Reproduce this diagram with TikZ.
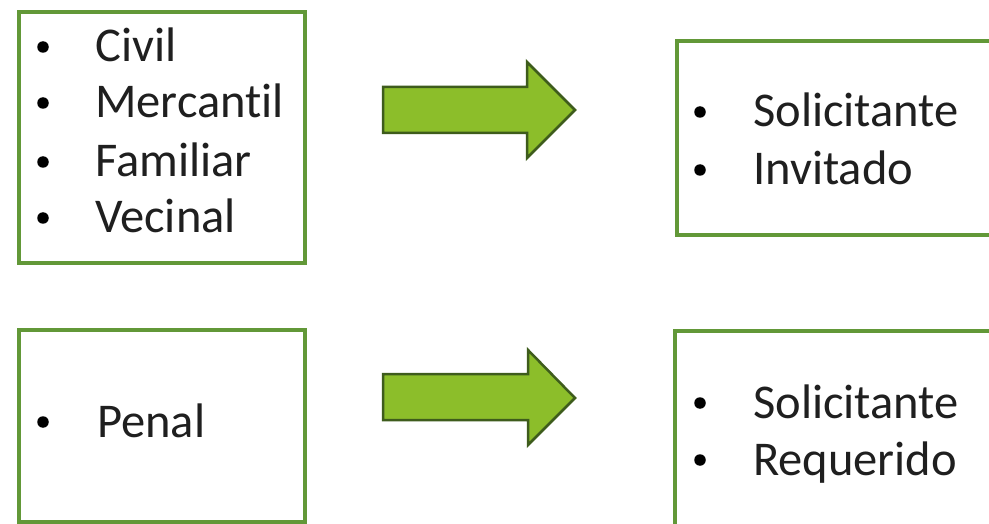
\documentclass[tikz,border=0pt]{standalone}
\usepackage{fontspec}
\setmainfont{Carlito}[Ligatures=CommonOff, RawFeature={-liga;-dlig;-clig}]
\definecolor{boxgreen}{RGB}{98,152,56}
\definecolor{arrowfill}{RGB}{140,190,42}
\definecolor{arrowline}{RGB}{62,92,28}
\begin{document}
\begin{tikzpicture}[x=1pt,y=-1pt,
  panel/.style={draw=boxgreen, line width=4pt, fill=white, anchor=north west, inner sep=0pt},
  itemtext/.style={anchor=base west, inner sep=0pt, font=\fontsize{48.5}{53}\selectfont, text=black!88},
  bul/.style={circle, fill=black, inner sep=0pt, minimum size=11.5pt},
  bigarrow/.style={fill=arrowfill, draw=arrowline, line width=2.5pt, line join=miter}]
\useasboundingbox (0,0) rectangle (989,524);
\clip (0,0) rectangle (989,524);
\fill[white] (0,0) rectangle (989,524);
% boxes
\node[panel, minimum width=286pt, minimum height=251pt] (b1) at (17,10) {};
\node[panel, minimum width=340pt, minimum height=194pt] (b2) at (675,39.5) {};
\node[panel, minimum width=286pt, minimum height=192pt] (b3) at (17,328) {};
\node[panel, minimum width=340pt, minimum height=210pt] (b4) at (673,329) {};
% box 1 text
\node[bul] (b1d1) at (43,47) {};
\node[itemtext] (b1t1) at (95,62) {Civil};
\node[bul] (b1d2) at (43,103) {};
\node[itemtext] (b1t2) at (95,118) {Mercantil};
\node[bul] (b1d3) at (43,162) {};
\node[itemtext] (b1t3) at (95,177) {Familiar};
\node[bul] (b1d4) at (43,218) {};
\node[itemtext] (b1t4) at (95,233) {Vecinal};
% box 2 text
\node[bul] (b2d1) at (700,112) {};
\node[itemtext] (b2t1) at (753,127) {Solicitante};
\node[bul] (b2d2) at (700,170) {};
\node[itemtext] (b2t2) at (753,185) {Invitado};
% box 3 text
\node[bul] (b3d1) at (43,422) {};
\node[itemtext] (b3t1) at (97,437) {Penal};
% box 4 text
\node[bul] (b4d1) at (700,403) {};
\node[itemtext] (b4t1) at (753,418) {Solicitante};
\node[bul] (b4d2) at (700,460) {};
\node[itemtext] (b4t2) at (753,475) {Requerido};
% arrows
\draw[bigarrow] (383,87) -- (527,87) -- (527,62) -- (575,110) -- (527,158) -- (527,133) -- (383,133) -- cycle;
\draw[bigarrow] (383,374) -- (528,374) -- (528,350) -- (575,398) -- (528,445) -- (528,420) -- (383,420) -- cycle;
\end{tikzpicture}
\end{document}
